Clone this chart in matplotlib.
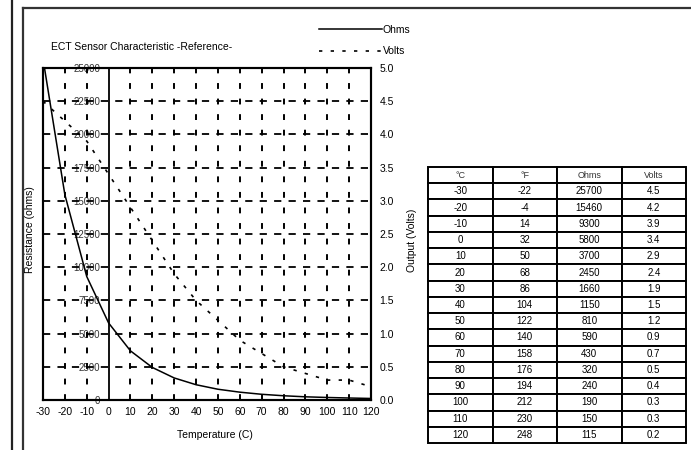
import matplotlib
matplotlib.use("Agg")
import matplotlib.pyplot as plt
from matplotlib.lines import Line2D

plt.rcParams['font.family'] = ['Liberation Sans', 'DejaVu Sans']

# ECT sensor reference values
temp_c = [-30, -20, -10, 0, 10, 20, 30, 40, 50, 60, 70, 80, 90, 100, 110, 120]
temp_f = [-22, -4, 14, 32, 50, 68, 86, 104, 122, 140, 158, 176, 194, 212, 230, 248]
ohms = [25700, 15460, 9300, 5800, 3700, 2450, 1660, 1150, 810, 590, 430, 320, 240, 190, 150, 115]
volts = [4.5, 4.2, 3.9, 3.4, 2.9, 2.4, 1.9, 1.5, 1.2, 0.9, 0.7, 0.5, 0.4, 0.3, 0.3, 0.2]

ohm_ticks = list(range(0, 25001, 2500))
volt_ticks = [0.0, 0.5, 1.0, 1.5, 2.0, 2.5, 3.0, 3.5, 4.0, 4.5, 5.0]
header = ['°C', '°F', 'Ohms', 'Volts']

W, H = 691, 450
fig = plt.figure(figsize=(W / 100, H / 100), dpi=100)

# page frame
def fx(px):
    return px / W

def fy(py):
    return 1 - py / H

fig.add_artist(Line2D([fx(12), fx(12)], [0, 1], color='#222222', lw=1.6))
fig.add_artist(Line2D([fx(23), fx(23)], [0, fy(8)], color='#333333', lw=1.6))
fig.add_artist(Line2D([fx(23), 1], [fy(8), fy(8)], color='#333333', lw=1.6))

ax = fig.add_axes([fx(43), fy(400), fx(371) - fx(43), fy(68) - fy(400)])
ax.set_xlim(-30, 120)
ax.set_ylim(0, 25000)

# dashed grid, solid line at 0 C
for t in range(-20, 120, 10):
    if t == 0:
        ax.axvline(t, color='black', lw=1.3)
    else:
        ax.axvline(t, color='black', lw=1.4, dashes=(3, 5))
for r in ohm_ticks[1:-1]:
    ax.axhline(r, color='black', lw=1.3, dashes=(4, 4))

l1, = ax.plot(temp_c, ohms, color='black', lw=1.1, label='Ohms')

ax.set_xticks(temp_c)
ax.set_xticklabels([str(t) for t in temp_c])
ax.set_yticks(ohm_ticks)
ax.set_yticklabels([str(v) for v in ohm_ticks])
ax.tick_params(axis='x', length=0, pad=5, labelsize=7.5)
ax.tick_params(axis='y', length=0, pad=-41, labelsize=7, labelcolor='#333333')
for s in ax.spines.values():
    s.set_linewidth(1.5)

ax2 = ax.twinx()
ax2.set_ylim(0, 5)
ax2.set_yticks(volt_ticks)
ax2.set_yticklabels(['%.1f' % v for v in volt_ticks])
ax2.tick_params(axis='y', length=0, pad=6, labelsize=7.5)
l2, = ax2.plot(temp_c, volts, color='black', lw=1.2, linestyle=(0, (2, 5)), label='Volts')
for s in ax2.spines.values():
    s.set_linewidth(1.5)

fig.text(fx(30), fy(230), 'Resistance (ohms)', rotation=90, ha='center', va='center', fontsize=7.5)
fig.text(fx(412), fy(240), 'Output (Volts)', rotation=90, ha='center', va='center', fontsize=7.5)
fig.text(fx(215), fy(435), 'Temperature (C)', ha='center', va='center', fontsize=7.5)
fig.text(fx(142), fy(47), 'ECT Sensor Characteristic -Reference-', ha='center', va='center', fontsize=7.5)

fig.legend([l1, l2], ['Ohms', 'Volts'], loc='upper left', bbox_to_anchor=(fx(319), fy(25)),
           frameon=False, fontsize=7.5, handlelength=6.0, handletextpad=0.1,
           labelspacing=1.1, borderpad=0, borderaxespad=0)

# reference table
rows = [[str(c), str(f), str(o), '%.1f' % v] for c, f, o, v in zip(temp_c, temp_f, ohms, volts)]
tax = fig.add_axes([fx(428), fy(443), fx(686) - fx(428), fy(167) - fy(443)])
tax.axis('off')
tbl = tax.table(cellText=[header] + rows, cellLoc='center', bbox=[0, 0, 1, 1])
tbl.auto_set_font_size(False)
tbl.set_fontsize(7)
for (r, c), cell in tbl.get_celld().items():
    cell.set_linewidth(1.4)
    cell.set_edgecolor('black')
    if r == 0:
        cell.get_text().set_fontsize(6.5)
        cell.get_text().set_color('#333333')

fig.savefig('out.png', dpi=100)
